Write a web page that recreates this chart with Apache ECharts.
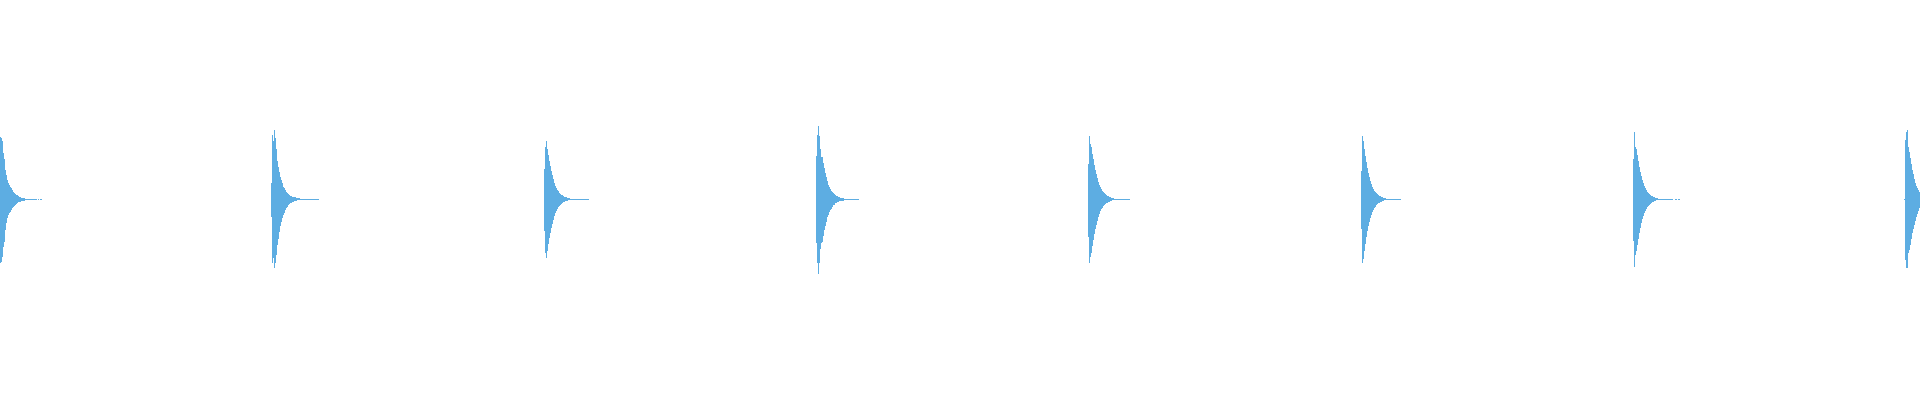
<!DOCTYPE html>
<html>
<head>
<meta charset="utf-8">
<script src="https://cdn.jsdelivr.net/npm/echarts@6/dist/echarts.min.js"></script>
<style>
html,body{margin:0;padding:0;background:#fff;}
#chart{width:1920px;height:400px;}
</style>
</head>
<body>
<div id="chart"></div>
<script>
// Waveform: 1920 samples, 8 decaying pulses (values in amplitude units)
var sampleCount = 1920;
var pulseStarts = [0, 271, 544, 816, 1088, 1361, 1633, 1904];

var T = 1, B = '-'; // faint tail level
var pulseTop1 = [63,62,59,47,41,30,25,20,17,15,13,12,10,8,7,6,5,5,4,3,3,2,2,2,2,T,T,T,T,T,T,T,T,T,T,T,T,'-',T,'-',T,T];
var pulseBot1 = [-63,-62,-57,-47,-42,-30,-23,-18,-15,-13,-12,-10,-8,-7,-6,-5,-4,-3,-2,-2,-2,-1,-1,-1,-1,B,B,B,B,B,B,B,B,B,B,B,B,'-',B,'-',B,B];

var pulseTop2 = [17,65,59,70,62,51,39,33,28,23,20,17,13,12,10,8,7,6,5,4,4,3,3,3,3,2,2,2,2,T,T,T,T,T,T,T,T,T,T,T,T,T,T,T,T,T,T,T];
var pulseBot2 = [-17,-63,-58,-68,-63,-55,-45,-39,-32,-26,-22,-18,-15,-13,-10,-8,-7,-5,-4,-3,-3,-2,-2,-1,-1,-1,B,B,B,B,B,B,B,B,B,B,B,B,B,B,B,B,B,B,B,B,B,B];

var pulseTop3 = [31,53,59,51,45,39,34,29,25,21,17,14,12,10,9,7,6,5,5,4,3,3,3,2,2,2,T,T,T,T,T,T,T,T,T,T,T,T,T,T,T,T,T,T,T];
var pulseBot3 = [-31,-53,-58,-51,-44,-38,-33,-28,-24,-20,-16,-13,-11,-9,-7,-6,-5,-4,-3,-2,-2,-1,-1,-1,B,B,B,B,B,B,B,B,B,B,B,B,B,B,B,B,B,B,B,B,B];

var pulseTop4 = [44,65,74,64,51,43,43,37,32,27,23,19,15,13,11,9,8,7,6,5,4,4,3,3,2,2,2,2,T,T,T,T,T,T,T,T,T,T,T,T,T,T,T];
var pulseBot4 = [-43,-63,-74,-63,-49,-43,-42,-36,-30,-26,-22,-17,-15,-12,-10,-9,-7,-5,-5,-3,-3,-2,-2,-1,-1,-1,-1,-1,B,B,B,B,B,B,B,B,B,B,B,B,B,B,B];

var pulseTop5 = [36,64,56,53,46,41,35,30,26,22,18,15,13,11,9,8,7,6,5,4,4,3,3,2,2,2,T,T,T,T,T,T,T,T,T,T,T,T,T,T,T,T];
var pulseBot5 = [-37,-63,-57,-53,-46,-40,-34,-29,-25,-21,-17,-14,-11,-9,-8,-6,-5,-4,-3,-3,-2,-2,-1,-1,B,B,B,B,B,B,B,B,B,B,B,B,B,B,B,B,B,B];

var pulseTop6 = [29,64,59,51,44,38,32,27,23,19,16,13,11,9,8,7,6,5,4,4,3,3,2,2,2,T,T,T,T,T,T,T,T,T,T,T,T,T,T,T];
var pulseBot6 = [-29,-63,-59,-51,-44,-37,-31,-26,-22,-18,-15,-12,-10,-8,-7,-5,-4,-3,-3,-2,-2,-1,-1,B,B,B,B,B,B,B,B,B,B,B,B,B,B,B,B,B];

var pulseTop7 = [41,68,53,51,45,39,33,28,24,20,17,14,12,10,8,7,6,5,4,4,3,3,2,2,2,T,T,T,T,T,T,T,T,T,T,T,T,T,T,T,'-','-',T,T,'-',T,T];
var pulseBot7 = [-41,-67,-55,-51,-45,-39,-33,-28,-23,-19,-16,-13,-11,-9,-7,-6,-5,-4,-3,-2,-2,-1,-1,B,B,B,B,B,B,B,B,B,B,B,B,B,B,B,B,B,'-','-',B,B,'-',B,B];

var pulseTop8 = [T,60,68,70,53,48,42,36,30,26,21,17,14,12,10,8];
var pulseBot8 = [B,-60,-68,-68,-53,-50,-45,-39,-33,-29,-25,-21,-17,-14,-11,-8];

var pulseTops = [pulseTop1,pulseTop2,pulseTop3,pulseTop4,pulseTop5,pulseTop6,pulseTop7,pulseTop8];
var pulseBots = [pulseBot1,pulseBot2,pulseBot3,pulseBot4,pulseBot5,pulseBot6,pulseBot7,pulseBot8];

// build the tables the library needs
var categories = [];
for (var i = 0; i < sampleCount; i++) categories.push(i);
var upper = new Array(sampleCount).fill('-');
var lower = new Array(sampleCount).fill('-');
pulseStarts.forEach(function (s, k) {
  pulseTops[k].forEach(function (v, j) { if (s + j < sampleCount) upper[s + j] = v; });
  pulseBots[k].forEach(function (v, j) { if (s + j < sampleCount) lower[s + j] = v; });
});

var chart = echarts.init(document.getElementById('chart'), null, {renderer: 'canvas'});
chart.setOption({
  animation: false,
  backgroundColor: '#ffffff',
  grid: {left: 0, right: 0, top: 100, height: 200, containLabel: false},
  xAxis: {type: 'category', data: categories, show: false, boundaryGap: true},
  yAxis: {type: 'value', min: -100, max: 100, show: false, splitLine: {show: false}},
  series: [
    {type: 'bar', name: 'upper', stack: 'wave', data: upper, barWidth: '100%', large: false,
     itemStyle: {color: '#5dade2'}},
    {type: 'bar', name: 'lower', stack: 'wave', data: lower, barWidth: '100%', large: false,
     itemStyle: {color: '#5dade2'}}
  ]
});
</script>
</body>
</html>
